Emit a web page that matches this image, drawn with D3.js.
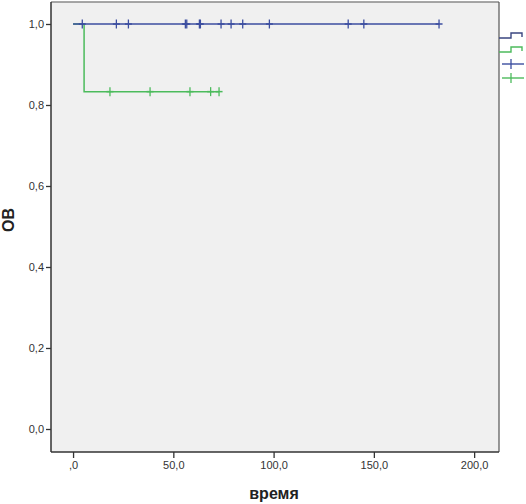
<!DOCTYPE html>
<html><head><meta charset="utf-8">
<script src="https://cdn.jsdelivr.net/npm/d3@7"></script>
<style>body{margin:0;background:#fff}svg{display:block}</style>
</head><body>
<script>
// Data
const xTicks = [0, 50, 100, 150, 200];
const yTicks = [0, 0.2, 0.4, 0.6, 0.8, 1.0];
const blueStepTimes = [0, 182.5];
const blueStepSurv = [1.0, 1.0];
const blueCensor = [4.6, 21.6, 27.6, 56.0, 56.7, 63.0, 63.5, 73.8, 78.8, 84.6, 97.9, 137.2, 145.0, 182.5];
const greenStepTimes = [0, 5.5, 72.8];
const greenStepSurv = [1.0, 0.833, 0.833];
const greenCensor = [18.4, 38.4, 58.3, 68.6, 72.8];
const greenCensorSurv = 0.833;

const W = 526, H = 504;
const plot = {l: 51, r: 499, t: 2, b: 452};
const blueCol = "#3c4ea0", greenCol = "#4cbb5c";

const svg = d3.select("body").append("svg").attr("width", W).attr("height", H)
  .style("font-family", "'Liberation Sans', Arial, sans-serif");

const x = d3.scaleLinear().domain([-11, 212.4]).range([plot.l, plot.r]);
const y = d3.scaleLinear().domain([-0.0568, 1.0543]).range([plot.b, plot.t]);

svg.append("rect").attr("x", plot.l).attr("y", plot.t)
  .attr("width", plot.r - plot.l).attr("height", plot.b - plot.t)
  .attr("fill", "#f0f0f0");

// borders
svg.append("line").attr("x1", plot.l).attr("x2", plot.r).attr("y1", plot.t).attr("y2", plot.t).attr("stroke", "#8a8a8a").attr("stroke-width", 1.5);
svg.append("line").attr("x1", plot.r).attr("x2", plot.r).attr("y1", plot.t).attr("y2", plot.b).attr("stroke", "#555").attr("stroke-width", 1.2);

const fmt = d => d === 0 ? ",0" : d3.format(".1f")(d).replace(".", ",");
const fmtY = d => d3.format(".1f")(d).replace(".", ",");

const xAxis = svg.append("g").attr("transform", `translate(0,${plot.b})`)
  .call(d3.axisBottom(x).tickValues(xTicks).tickFormat(fmt).tickSize(6).tickSizeOuter(0).tickPadding(3));
const yAxis = svg.append("g").attr("transform", `translate(${plot.l},0)`)
  .call(d3.axisLeft(y).tickValues(yTicks).tickFormat(fmtY).tickSize(5).tickSizeOuter(0).tickPadding(2));
[xAxis, yAxis].forEach(g => {
  g.select(".domain").attr("stroke", "#333").attr("stroke-width", 1.5);
  g.selectAll(".tick line").attr("stroke", "#333").attr("stroke-width", 1.3);
  g.selectAll("text").attr("font-size", 11).attr("fill", "#333").attr("font-family", "'Liberation Sans', Arial, sans-serif");
});
yAxis.select(".domain").attr("d", `M0,${plot.t}V${plot.b}`);
xAxis.select(".domain").attr("d", `M${plot.l},0H${plot.r}`);

// titles
svg.append("text").attr("x", 274).attr("y", 499).attr("text-anchor", "middle")
  .attr("font-size", 16).attr("font-weight", "bold").attr("fill", "#222").text("время");
svg.append("text").attr("transform", `translate(14,${220}) rotate(-90)`).attr("text-anchor", "middle")
  .attr("font-size", 16).attr("font-weight", "bold").attr("fill", "#222").text("ОВ");

const stepLine = d3.line().x(d => x(d[0])).y(d => y(d[1])).curve(d3.curveStepAfter);

function drawSeries(times, surv, censor, csurv, col) {
  const pts = times.map((t, i) => [t, surv[i]]);
  svg.append("path").attr("d", stepLine(pts)).attr("fill", "none")
    .attr("stroke", col).attr("stroke-width", 1.5);
  const g = svg.append("g");
  censor.forEach(t => {
    const cy = y(csurv);
    g.append("line").attr("x1", x(t)).attr("x2", x(t)).attr("y1", cy - 4.5).attr("y2", cy + 4.5)
      .attr("stroke", col).attr("stroke-width", 1.3);
    g.append("line").attr("x1", x(t) - 3.5).attr("x2", x(t) + 3.5).attr("y1", cy).attr("y2", cy)
      .attr("stroke", col).attr("stroke-width", 1.5);
  });
}
drawSeries(greenStepTimes, greenStepSurv, greenCensor, greenCensorSurv, greenCol);
drawSeries(blueStepTimes, blueStepSurv, blueCensor, 1.0, blueCol);

// legend (clipped at right edge)
const leg = svg.append("g");
const stepIcon = (yy, col) => leg.append("path")
  .attr("d", `M${plot.r},${yy}H${511}V${yy - 5}H${522}V${yy - 1}`)
  .attr("fill", "none").attr("stroke", col).attr("stroke-width", 1.4);
stepIcon(38, "#3a4680");
stepIcon(52, greenCol);
const crossIcon = (yy, col) => {
  leg.append("line").attr("x1", 502).attr("x2", 524).attr("y1", yy).attr("y2", yy).attr("stroke", col).attr("stroke-width", 1.4);
  leg.append("line").attr("x1", 511).attr("x2", 511).attr("y1", yy - 5).attr("y2", yy + 5).attr("stroke", col).attr("stroke-width", 1.3);
};
crossIcon(64, blueCol);
crossIcon(78, greenCol);
</script>
</body></html>
